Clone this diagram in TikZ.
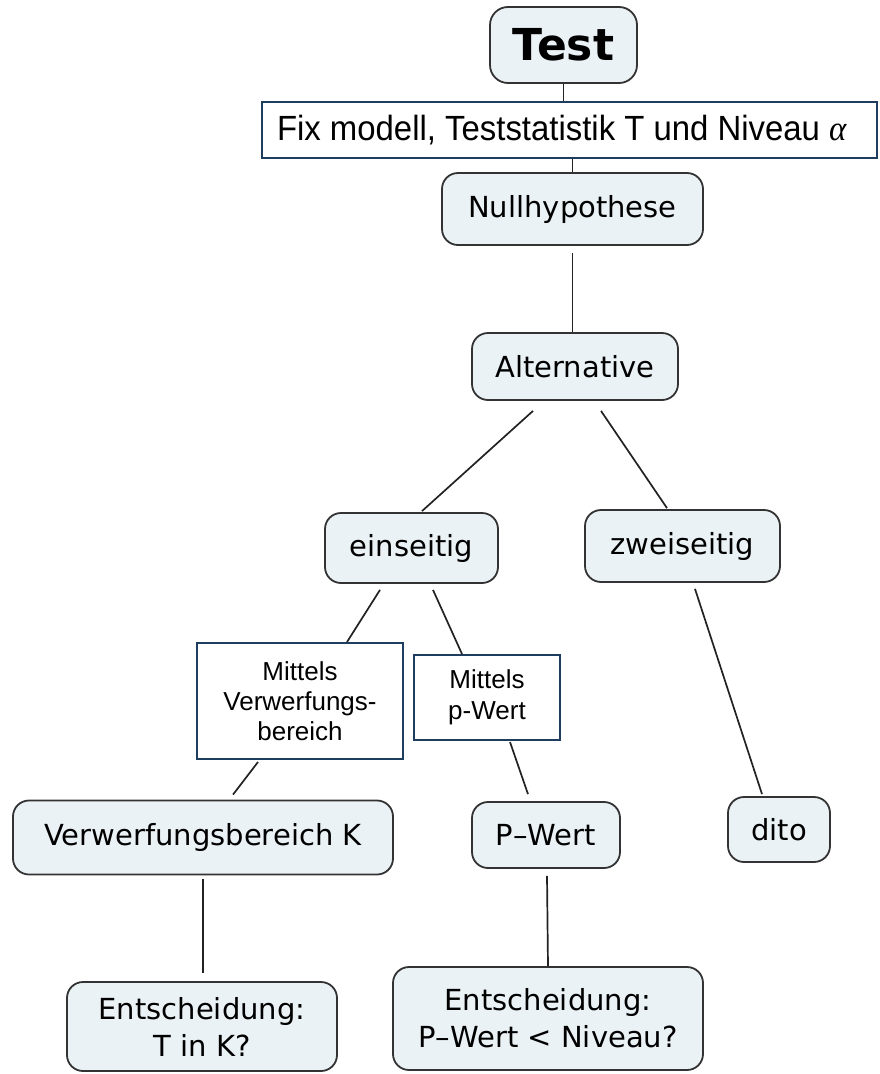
\documentclass[tikz,border=0pt]{standalone}
\usepackage{fontspec}
\setmainfont{DejaVu Sans}
\newfontfamily\arialf{Liberation Sans}
\newfontfamily\timesf{Liberation Serif}
\definecolor{nodefill}{HTML}{EBF2F5}
\definecolor{nodeedge}{HTML}{333333}
\definecolor{navy}{HTML}{1F3D5E}
\definecolor{conncol}{HTML}{222222}
\begin{document}
\begin{tikzpicture}[x=1pt,y=-1pt,
  concept/.style={draw=nodeedge,line width=1.8pt,fill=nodefill,rounded corners=16pt,inner sep=0pt,align=center,
    font=\fontsize{29}{37}\selectfont},
  note/.style={draw=navy,line width=2pt,fill=white,inner sep=0pt,align=center,
    font=\arialf\fontsize{26}{30}\selectfont},
  conn/.style={draw=conncol,line width=1.7pt}]
\useasboundingbox (0,0) rectangle (879,1074);
\node[concept,minimum width=147pt,minimum height=76pt,rounded corners=18pt,font=\bfseries\fontsize{44}{50}\selectfont] (test) at (563.5,45) {Test};
\node[note,minimum width=615pt,minimum height=56pt] (fix) at (569.5,130) {\makebox[585pt][l]{\scalebox{0.94}[1]{\fontsize{35}{40}\selectfont Fix modell, Teststatistik T und Niveau {\timesf\itshape α}}}};
\node[concept,minimum width=261pt,minimum height=72pt] (null) at (572.5,209) {Nullhypothese};
\node[concept,minimum width=206pt,minimum height=67pt] (alt) at (575,366.5) {Alternative};
\node[concept,minimum width=173pt,minimum height=70pt] (eins) at (411.5,548) {einseitig};
\node[concept,minimum width=195pt,minimum height=72pt] (zwei) at (682.5,546) {zweiseitig};
\node[note,minimum width=206pt,minimum height=116pt] (mv) at (300,701) {Mittels\\Verwerfungs-\\bereich};
\node[note,minimum width=146pt,minimum height=85pt,font=\arialf\fontsize{26}{31}\selectfont] (mp) at (487,697.5) {Mittels\\p-Wert};
\node[concept,minimum width=380pt,minimum height=74pt] (vk) at (203,837.5) {Verwerfungsbereich K};
\node[concept,minimum width=148pt,minimum height=66pt] (pw) at (546,835) {P–Wert};
\node[concept,minimum width=102pt,minimum height=65pt] (dito) at (779,829.5) {dito};
\node[concept,minimum width=270pt,minimum height=89pt] (e1) at (202,1026.5) {Entscheidung:\\T in K?};
\node[concept,minimum width=310pt,minimum height=103pt] (e2) at (548,1018.5) {Entscheidung:\\P–Wert < Niveau?};
\draw[conn] (test.south) -- (test.south |- fix.north);
\draw[conn] (fix.south -| null.north) -- (null.north);
\draw[conn] ([yshift=-7pt]null.south) -- (null.south |- alt.north);
\draw[conn] ([xshift=-42pt,yshift=-10pt]alt.south) -- ([xshift=10.5pt,yshift=1pt]eins.north);
\draw[conn] ([xshift=26pt,yshift=-10pt]alt.south) -- ([xshift=-15.5pt,yshift=1pt]zwei.north);
\draw[conn] ([xshift=-31.5pt,yshift=-6pt]eins.south) -- ([xshift=47pt]mv.north);
\draw[conn] ([xshift=21.5pt,yshift=-6pt]eins.south) -- ([xshift=-25pt]mp.north);
\draw[conn] ([xshift=-42pt,yshift=-2pt]mv.south) -- ([xshift=30pt,yshift=5pt]vk.north);
\draw[conn] ([xshift=23pt,yshift=-1pt]mp.south) -- ([xshift=-18pt,yshift=7pt]pw.north);
\draw[conn] ([xshift=12.5pt,yshift=-6pt]zwei.south) -- ([xshift=-17pt,yshift=2pt]dito.north);
\draw[conn] ([yshift=-4pt]vk.south) -- ([yshift=8pt]vk.south |- e1.north);
\draw[conn] ([xshift=1pt,yshift=-7pt]pw.south) -- (e2.north);
\end{tikzpicture}
\end{document}
